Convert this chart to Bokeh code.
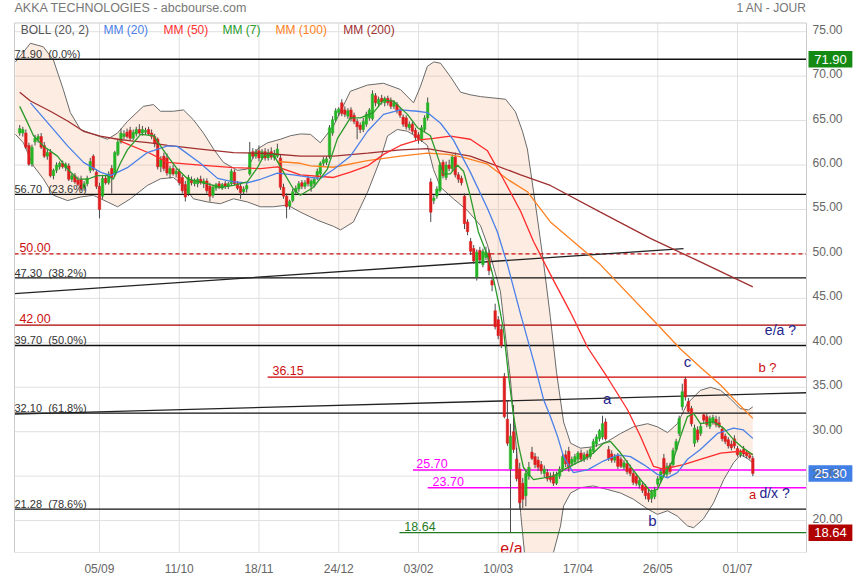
from bokeh.plotting import figure
from bokeh.models import Range1d, FixedTicker, Label
from bokeh.embed import file_html
from bokeh.resources import INLINE

# ---------------- data ----------------
DATES = ["05/09", "11/10", "18/11", "24/12", "03/02", "10/03", "17/04", "26/05", "01/07"]
DATE_IDX = [26, 52, 78, 104, 130, 156, 182, 208, 234]
Y_TICKS = [20, 25, 30, 35, 40, 45, 50, 55, 60, 65, 70, 75]

OPEN = [63.6, 63.6, 63.6, 62.2, 60.1, 62.6, 62.9, 63.2, 62.2, 61.0,
        61.4, 58.8, 59.4, 59.8, 60.2, 59.7, 59.9, 58.4, 58.8, 58.3,
        58.4, 57.4, 57.9, 59.4, 61.0, 59.2, 57.6, 56.5, 58.5, 58.0,
        59.6, 58.9, 61.2, 62.6, 63.2, 63.7, 63.9, 63.0, 63.5, 64.0,
        63.6, 63.7, 64.0, 63.6, 63.2, 62.9, 59.8, 61.0, 60.8, 59.0,
        59.6, 59.0, 59.3, 58.6, 57.8, 56.8, 58.3, 57.9, 57.9, 58.4,
        57.9, 58.2, 57.6, 56.6, 57.4, 57.9, 57.4, 57.9, 57.6, 57.9,
        59.2, 57.9, 57.6, 57.0, 57.3, 59.0, 61.5, 61.0, 61.6, 60.8,
        61.5, 60.8, 61.5, 60.8, 61.0, 60.8, 57.5, 56.5, 55.4, 56.0,
        57.0, 57.3, 58.0, 57.6, 58.5, 57.6, 57.9, 58.6, 59.0, 60.2,
        60.3, 60.9, 63.6, 65.1, 65.9, 67.0, 66.2, 65.5, 66.2, 65.6,
        64.9, 64.5, 64.0, 64.6, 65.3, 65.2, 67.8, 66.9, 67.5, 67.0,
        67.5, 67.3, 66.6, 66.8, 66.2, 65.4, 65.3, 64.2, 64.6, 63.9,
        63.4, 62.8, 64.0, 65.3, 58.1, 56.0, 56.5, 57.1, 60.3, 58.6,
        60.0, 59.6, 60.9, 58.9, 58.5, 56.5, 53.6, 51.4, 50.6, 47.4,
        50.4, 48.8, 49.6, 50.1, 47.0, 43.6, 42.6, 41.5, 36.2, 31.4,
        25.8, 30.0, 26.9, 25.8, 24.2, 22.8, 25.0, 27.7, 27.2, 26.8,
        26.3, 25.3, 25.4, 25.0, 25.1, 24.2, 25.0, 25.8, 27.4, 27.8,
        26.4, 26.6, 26.9, 27.6, 26.9, 27.5, 27.2, 27.8, 28.6, 29.2,
        29.4, 31.1, 28.0, 27.5, 26.8, 27.3, 26.9, 26.0, 26.4, 25.9,
        25.3, 25.0, 24.0, 24.0, 23.8, 23.1, 22.5, 22.7, 24.1, 24.6,
        27.0, 25.2, 26.2, 26.3, 28.0, 29.8, 32.8, 35.9, 33.4, 32.6,
        28.7, 30.2, 29.8, 31.9, 31.7, 30.6, 31.1, 31.4, 31.0, 30.3,
        29.5, 29.1, 28.6, 29.2, 28.1, 27.4, 28.0, 27.6, 27.3, 27.0]

HIGH = [64.5, 64.3, 64.0, 62.5, 62.3, 63.4, 63.5, 63.6, 62.6, 61.8,
        61.8, 59.6, 60.3, 60.4, 60.5, 60.3, 60.2, 59.0, 59.1, 58.7,
        58.8, 58.2, 58.8, 60.8, 61.2, 59.5, 58.0, 58.9, 58.9, 59.3,
        60.0, 61.6, 63.0, 64.1, 63.9, 64.1, 64.3, 64.0, 64.3, 64.6,
        64.4, 64.2, 64.3, 64.0, 63.5, 63.1, 61.0, 61.4, 61.3, 59.9,
        60.0, 59.6, 59.6, 58.9, 58.2, 58.9, 58.7, 58.5, 58.6, 58.8,
        58.5, 58.5, 58.0, 57.8, 58.0, 58.2, 58.0, 58.2, 58.1, 59.6,
        59.5, 58.2, 57.9, 57.6, 58.0, 62.6, 61.9, 61.8, 62.2, 61.8,
        61.9, 61.8, 62.0, 61.7, 62.4, 61.2, 57.9, 56.8, 56.1, 57.3,
        57.7, 58.2, 58.3, 58.3, 58.8, 58.4, 58.6, 59.6, 60.4, 60.9,
        61.0, 64.5, 65.5, 66.4, 66.5, 67.4, 66.6, 66.4, 66.5, 65.9,
        65.2, 64.8, 65.3, 66.0, 66.4, 68.4, 68.1, 67.7, 67.9, 67.7,
        67.8, 67.6, 67.3, 67.1, 66.5, 65.7, 65.6, 64.9, 64.9, 64.2,
        63.7, 64.5, 65.6, 67.6, 58.5, 56.6, 57.6, 60.3, 60.6, 60.4,
        60.6, 61.2, 61.4, 59.2, 58.8, 56.8, 53.9, 51.8, 51.0, 50.5,
        50.8, 50.6, 50.8, 50.5, 47.4, 44.4, 43.0, 41.9, 36.6, 33.4,
        30.9, 33.0, 28.2, 26.5, 24.8, 25.8, 26.6, 28.3, 27.6, 27.2,
        26.7, 26.2, 25.8, 25.4, 25.5, 25.5, 26.1, 27.6, 27.9, 28.3,
        27.2, 27.5, 27.8, 28.0, 27.7, 27.9, 28.2, 29.2, 29.7, 30.3,
        31.8, 31.5, 28.4, 27.9, 27.5, 27.6, 27.2, 26.8, 26.8, 26.3,
        25.6, 25.3, 24.8, 24.3, 24.1, 23.5, 23.5, 23.8, 25.0, 25.8,
        27.5, 26.5, 26.5, 28.2, 29.2, 31.8, 35.4, 36.15, 33.8, 32.9,
        30.8, 30.6, 31.0, 32.1, 32.0, 31.8, 31.9, 31.8, 31.7, 30.6,
        29.8, 29.4, 29.0, 29.6, 28.4, 28.0, 28.4, 27.9, 27.6, 27.3]

LOW = [63.3, 63.2, 61.8, 59.9, 59.8, 62.2, 62.5, 61.8, 60.8, 60.6,
       58.6, 58.4, 59.1, 59.5, 59.6, 59.3, 58.2, 58.1, 57.9, 57.6,
       57.1, 57.1, 57.6, 59.1, 59.3, 57.3, 54.0, 56.2, 57.8, 57.8,
       56.8, 58.7, 61.0, 62.4, 62.9, 63.0, 62.8, 62.8, 63.2, 63.4,
       63.3, 63.4, 63.3, 62.9, 62.0, 59.5, 59.2, 59.3, 58.8, 58.5,
       58.8, 58.6, 57.7, 56.8, 55.9, 56.5, 57.7, 57.6, 57.5, 57.8,
       57.4, 56.8, 55.9, 56.3, 57.1, 57.3, 57.2, 57.3, 57.3, 57.7,
       57.7, 57.2, 56.2, 56.7, 56.9, 58.8, 60.7, 60.7, 60.4, 60.6,
       60.5, 60.5, 60.6, 60.5, 60.8, 57.2, 56.2, 54.0, 55.0, 55.8,
       56.6, 57.0, 57.3, 57.3, 57.6, 57.0, 57.5, 58.3, 58.8, 59.9,
       60.0, 60.7, 63.3, 64.9, 65.5, 65.5, 65.4, 65.2, 64.9, 64.6,
       62.9, 63.6, 63.7, 64.3, 65.0, 65.0, 66.6, 66.5, 66.8, 66.6,
       66.7, 66.3, 66.3, 65.8, 65.3, 64.3, 64.0, 63.9, 63.5, 62.8,
       62.4, 62.6, 63.7, 65.0, 53.6, 55.6, 56.2, 56.9, 58.5, 58.3,
       59.3, 59.3, 58.6, 58.0, 57.7, 52.8, 52.1, 49.9, 48.9, 47.0,
       48.9, 48.5, 49.3, 47.6, 45.8, 41.5, 40.4, 39.4, 31.5, 28.4,
       18.64, 27.6, 24.4, 21.3, 21.4, 21.6, 24.6, 26.8, 25.9, 25.6,
       25.2, 24.9, 24.4, 24.3, 23.9, 24.0, 24.7, 25.5, 26.0, 25.5,
       26.1, 26.3, 26.5, 26.6, 26.6, 26.8, 26.9, 27.5, 28.3, 28.9,
       29.1, 29.0, 26.7, 26.5, 26.5, 25.8, 25.9, 25.7, 25.2, 25.0,
       24.0, 23.9, 23.6, 23.1, 22.4, 22.1, 22.0, 22.4, 23.8, 24.3,
       25.0, 24.9, 25.2, 26.0, 27.8, 29.5, 32.4, 33.5, 32.0, 30.6,
       28.3, 28.8, 29.5, 30.9, 30.5, 30.3, 30.8, 30.5, 30.4, 28.9,
       28.6, 28.1, 27.9, 28.1, 27.2, 27.1, 27.2, 27.0, 26.9, 25.0]

CLOSE = [64.1, 64.0, 62.0, 60.1, 62.0, 63.0, 63.2, 62.0, 61.0, 61.4,
         58.8, 59.4, 60.0, 60.2, 59.8, 60.1, 58.4, 58.8, 58.1, 57.8,
         57.3, 57.9, 58.5, 60.4, 59.5, 57.6, 55.0, 58.5, 58.0, 59.0,
         58.6, 61.4, 62.6, 63.6, 63.5, 63.2, 63.0, 63.7, 64.0, 63.6,
         64.0, 63.9, 63.5, 63.2, 62.4, 59.8, 60.6, 59.6, 59.1, 59.6,
         59.0, 59.3, 58.0, 57.1, 56.4, 58.6, 58.0, 58.3, 58.4, 58.0,
         58.2, 57.1, 56.5, 57.5, 57.8, 57.5, 57.8, 57.6, 57.9, 59.3,
         57.9, 57.4, 56.9, 57.3, 57.7, 61.4, 61.0, 61.5, 60.8, 61.5,
         60.8, 61.4, 60.9, 61.3, 61.8, 57.5, 56.5, 55.3, 55.9, 57.0,
         57.4, 57.9, 57.6, 58.0, 57.9, 58.2, 58.4, 59.3, 60.2, 60.6,
         60.7, 64.2, 65.1, 66.1, 66.3, 65.8, 65.7, 66.1, 65.2, 64.9,
         64.3, 64.0, 64.9, 65.7, 66.2, 68.0, 67.0, 67.4, 67.1, 67.5,
         67.0, 66.6, 67.0, 66.1, 65.6, 64.6, 64.3, 64.6, 63.8, 63.1,
         62.9, 64.2, 65.3, 67.0, 54.7, 56.3, 57.3, 60.0, 58.8, 60.0,
         59.6, 60.9, 58.9, 58.4, 58.0, 53.4, 52.5, 50.3, 49.2, 50.2,
         49.3, 50.3, 50.2, 48.1, 46.5, 41.8, 40.8, 39.7, 31.7, 28.7,
         29.5, 28.0, 24.7, 22.0, 22.4, 25.3, 26.0, 27.0, 26.3, 26.0,
         25.6, 25.8, 24.7, 24.6, 24.2, 25.2, 25.8, 27.2, 26.4, 25.9,
         26.9, 27.2, 27.6, 26.9, 27.4, 27.1, 28.0, 28.9, 29.4, 30.1,
         30.9, 29.2, 27.0, 26.8, 27.2, 26.1, 26.1, 26.5, 25.5, 25.3,
         24.3, 24.2, 24.5, 23.4, 22.8, 22.4, 23.2, 23.4, 24.7, 25.5,
         25.3, 26.1, 25.5, 27.9, 28.9, 31.5, 34.5, 33.9, 32.3, 30.9,
         30.4, 29.1, 30.6, 31.3, 30.8, 31.5, 31.6, 30.8, 30.6, 29.2,
         28.9, 28.4, 28.2, 28.4, 27.4, 27.7, 27.5, 27.3, 27.1, 25.3]

# moving averages / Bollinger bands, sampled as (bar position, value)
MA7 = [(0, 66.6), (2.5, 64.8), (4.5, 63.3), (7.7, 62.15), (12.3, 61.0), (15.6, 59.55),
       (18.8, 58.45), (22.1, 58.4), (25.3, 58.8), (28.6, 58.8), (30.5, 58.4), (32.8, 60.2),
       (35.1, 61.7), (39.4, 63.45), (43.6, 63.3), (48.2, 61.0), (51.4, 59.55), (54.7, 58.45),
       (58.9, 58.1), (65.4, 57.5), (69.7, 57.7), (74.2, 58.1), (77.5, 59.7), (79.5, 61.0),
       (82.7, 61.2), (86, 59.2), (89.2, 57.3), (91.5, 56.6), (95.8, 57.5), (100.3, 59.55),
       (103.6, 63.0), (107.8, 65.3), (111.1, 65.3), (115.3, 65.9), (118.6, 67.3), (121.8, 67.2),
       (126.4, 65.7), (129.7, 64.2), (131.6, 63.8), (133.9, 63.3), (136.2, 61.0), (138.1, 59.0),
       (140.4, 59.0), (142.7, 60.0), (144.7, 59.3), (146.9, 56.5), (149.5, 52.5), (152.5, 49.8),
       (154.1, 47.8), (156.1, 44.5), (157.7, 41.5), (159.3, 36.5), (160.9, 32.0), (162.6, 28.5),
       (164.2, 26.0), (165.5, 25.4), (167.5, 24.6), (170.8, 24.8), (174, 25.0), (177.3, 25.7),
       (180.5, 26.3), (183.8, 26.85), (187, 27.6), (190.3, 28.7), (192.6, 28.9), (195.9, 27.6),
       (199.1, 26.1), (202.4, 24.6), (205.6, 23.3), (207.9, 23.5), (209.9, 25.0), (213.1, 26.85),
       (215.4, 29.45), (217.7, 31.7), (219.7, 32.05), (221.9, 30.9), (226.2, 31.1), (229.5, 30.4),
       (232.7, 29.1), (235.9, 28.15), (239, 27.4)]

MA20 = [(3.5, 67.0), (10, 64.4), (15.6, 62.15), (20.8, 60.3), (26.3, 59.2), (29.6, 58.8),
        (35.1, 59.7), (41.6, 61.4), (48.2, 62.15), (51.4, 62.1), (58.9, 60.2), (64.5, 58.5),
        (69.7, 58.1), (74.2, 58.0), (78.5, 58.4), (84, 59.1), (89.2, 58.9), (94.8, 58.6),
        (98, 58.5), (102.3, 59.5), (107.8, 61.0), (113.4, 63.8), (118.6, 65.7), (124.1, 66.2),
        (129.7, 66.05), (132.9, 65.9), (137.2, 64.7), (141.4, 62.8), (146.9, 59.2), (152.5, 55.1),
        (155.7, 52.5), (159, 48.8), (163.3, 43.2), (167.5, 38.0), (170.8, 33.6), (173, 31.7),
        (175.3, 29.5), (177.3, 27.2), (180.5, 25.4), (185.1, 25.7), (190.3, 26.7), (194.9, 27.4),
        (199.1, 27.2), (203.4, 26.3), (207.9, 25.2), (211.2, 24.8), (214.4, 25.4), (217.7, 26.9),
        (221.9, 28.0), (227.5, 29.8), (232.7, 30.4), (235.9, 30.2), (239, 29.25)]

MA50 = [(32.8, 62.7), (42.6, 61.3), (48.2, 60.3), (58.9, 60.0), (69.7, 59.7), (78.5, 59.6),
        (84, 59.8), (91.5, 58.9), (102.3, 58.6), (107.8, 59.2), (113.4, 59.9), (118.6, 61.2),
        (124.1, 62.2), (129.7, 62.8), (134.9, 63.0), (140.4, 63.25), (146.9, 62.9), (152.5, 61.6),
        (157.7, 58.4), (163.3, 54.8), (167.5, 51.4), (173, 47.7), (179.6, 43.4), (185.1, 39.5),
        (191.6, 36.1), (198.1, 32.5), (202.4, 29.45), (206.6, 26.1), (209.9, 25.8), (216.4, 26.3),
        (221.9, 26.9), (228.5, 27.6), (234.9, 27.8), (239, 27.45)]

MA100 = [(84, 60.4), (91.5, 60.2), (94.8, 59.9), (102.3, 59.75), (113.4, 60.5), (124.1, 61.0),
         (132.9, 61.35), (139.5, 61.2), (144.7, 60.85), (152.5, 60.1), (159, 58.4), (165.5, 57.0),
         (173, 53.6), (189.3, 48.8), (208.9, 41.7), (215.4, 39.3), (221.9, 37.25), (228.5, 35.25),
         (232.7, 33.7), (239, 31.5)]

MA200 = [(0, 68.2), (3.5, 67.2), (10, 66.05), (15.6, 64.95), (20.8, 63.8), (26.3, 63.25),
         (31.9, 62.9), (37.1, 62.7), (42.6, 62.5), (48.2, 62.2), (58.9, 61.8), (69.7, 61.4),
         (80.8, 61.3), (91.5, 61.0), (102.3, 61.0), (113.4, 61.35), (124.1, 61.7), (132.9, 61.85),
         (140.4, 61.4), (146.9, 61.0), (152.5, 60.3), (163.3, 58.9), (173, 57.7), (189.3, 54.7),
         (205.6, 51.75), (221.9, 49.1), (239, 46.3)]

BOLL_UP = [(-1.4, 71.6), (3.5, 73.7), (7.7, 73.3), (11, 71.8), (14.2, 68.5), (16.5, 65.9),
           (19.8, 64.0), (25.3, 63.3), (28.6, 62.9), (31.9, 63.6), (35.1, 64.9), (40.3, 66.6),
           (43.6, 66.8), (45.9, 66.05), (50.1, 66.05), (53.4, 66.2), (56.6, 65.1), (59.9, 63.6),
           (63.2, 61.8), (66.4, 60.3), (71, 59.4), (74.2, 59.55), (77.5, 61.8), (80.8, 62.5),
           (85, 62.9), (88.3, 63.3), (91.5, 63.5), (94.8, 63.45), (98, 62.5), (102.3, 64.4),
           (107.8, 68.3), (113.4, 69.0), (118.6, 69.2), (124.1, 68.5), (128.4, 67.0), (130.6, 68.8),
           (132.9, 71.1), (135, 71.6), (137.2, 71.45), (140.4, 69.95), (143.7, 68.2), (146.9, 67.9),
           (150.2, 67.7), (158.4, 67.4), (161.6, 66.0), (163.9, 63.8), (165.5, 61.8), (168.1, 55.65),
           (170.8, 48.95), (173, 42.85), (175, 36.7), (177.3, 31.1), (179.6, 28.7), (182.8, 28.15),
           (187, 28.3), (191.6, 28.9), (195.9, 29.8), (200.1, 30.55), (204.7, 30.9), (207.9, 30.55),
           (211.2, 29.9), (214.4, 30.9), (217.7, 33.2), (221.9, 34.65), (225.2, 35.0), (228.5, 34.65),
           (231.7, 33.7), (234.9, 32.6), (237.6, 32.45), (239, 32.8)]

BOLL_LO = [(-1.4, 63.45), (1.2, 62.5), (4.5, 59.9), (7.7, 58.45), (11, 56.6), (15.6, 56.0),
           (19.8, 56.4), (24, 56.6), (28.6, 55.85), (31.9, 55.3), (36.1, 56.2), (41.6, 57.7),
           (45.9, 58.45), (50.1, 58.6), (53.4, 57.7), (56.6, 56.2), (61.2, 55.85), (65.4, 55.65),
           (69.7, 56.2), (74.2, 55.85), (78.5, 55.3), (82.7, 55.3), (87.3, 55.5), (91.5, 54.7),
           (97, 53.8), (102.3, 53.1), (104.6, 52.7), (108.8, 53.6), (113.4, 56.95), (117.6, 60.67),
           (119.9, 63.27), (123.1, 64.0), (126.4, 63.8), (129.7, 63.1), (132.9, 62.2), (134.9, 59.5),
           (137.2, 57.5), (141.4, 56.2), (145.9, 54.9), (150.2, 53.2), (152.5, 51.0), (156.7, 45.8),
           (160, 35.8), (162.3, 26.5), (163.3, 20.9), (165.5, 13.0), (168.8, 10.0), (172, 14.0),
           (174, 16.4), (176.3, 19.4), (177.3, 21.65), (179.6, 23.1), (182.8, 23.7), (187, 23.9),
           (191.6, 23.5), (195.9, 23.1), (200.1, 22.4), (204.7, 21.3), (207.9, 20.7), (211.2, 21.1),
           (214.4, 20.5), (217.7, 19.4), (219.7, 19.2), (222.9, 20.2), (226.2, 22.0), (229.5, 24.6),
           (232.7, 26.5), (235, 27.4), (237.2, 27.0), (239, 26.5)]

FIB_LEVELS = [71.90, 56.70, 47.30, 39.70, 32.10, 21.28]
FIB_PCT = ["0.0%", "23.6%", "38.2%", "50.0%", "61.8%", "78.6%"]
RED_LEVELS = [50.00, 42.00, 36.15]
PINK_LEVELS = [25.70, 23.70]
LOW_LEVEL = 18.64
LAST_PRICE = 25.30
TREND1 = ([-1.7, 216.4], [45.54, 50.6])
TREND2 = ([-1.7, 256.5], [31.98, 34.38])

# ---------------- figure ----------------
# plot box (in data units) and the full drawing area around it
X0, X1 = -1.7, 256.5
Y0, Y1 = 16.41, 75.98
FONT = "Liberation Sans"

p = figure(width=853, height=578, output_backend="svg", toolbar_location=None, tools="",
           x_range=Range1d(-6.264, 271.82), y_range=Range1d(Y0, 78.51),
           y_axis_location=None,
           min_border_left=0, min_border_right=0, min_border_top=0, min_border_bottom=21)
p.outline_line_color = None
p.background_fill_color = "white"
p.border_fill_color = "white"
p.grid.grid_line_color = None

p.xaxis.ticker = FixedTicker(ticks=DATE_IDX)
p.xaxis.major_label_overrides = {k: v for k, v in zip(DATE_IDX, DATES)}
p.xaxis.axis_line_color = None
p.xaxis.major_tick_line_color = None
p.xaxis.minor_tick_line_color = None
p.xaxis.major_label_text_font = FONT
p.xaxis.major_label_text_font_size = "12px"
p.xaxis.major_label_text_color = "#666666"
p.xaxis.major_label_standoff = 3

GRID = "#e0e0e0"
# grid inside the plot box
p.segment(x0=DATE_IDX, y0=[Y0] * len(DATE_IDX), x1=DATE_IDX, y1=[Y1] * len(DATE_IDX),
          line_color=GRID, line_width=1)
p.segment(x0=[X0] * len(Y_TICKS), y0=Y_TICKS, x1=[X1] * len(Y_TICKS), y1=Y_TICKS,
          line_color=GRID, line_width=1)

# Bollinger fill + lines
ux = [a for a, b in BOLL_UP]; uy = [b for a, b in BOLL_UP]
lx = [a for a, b in BOLL_LO]; ly = [b for a, b in BOLL_LO]
p.patch(ux + lx[::-1], uy + ly[::-1], fill_color="#f5a878", fill_alpha=0.22, line_color=None)
p.line(ux, uy, line_color="#6a6a6a", line_width=1)
p.line(lx, ly, line_color="#6a6a6a", line_width=1)

# Fibonacci levels
for lv in FIB_LEVELS:
    p.segment(x0=[X0], y0=[lv], x1=[X1], y1=[lv], line_color="#111111", line_width=1.3)
p.segment(x0=[X0], y0=[RED_LEVELS[0]], x1=[X1], y1=[RED_LEVELS[0]], line_color="#cc1111",
          line_width=1.2, line_dash="4 3")
p.segment(x0=[X0], y0=[RED_LEVELS[1]], x1=[X1], y1=[RED_LEVELS[1]], line_color="#aa0000", line_width=1.2)
p.segment(x0=[80.8], y0=[RED_LEVELS[2]], x1=[X1], y1=[RED_LEVELS[2]], line_color="#cc0000", line_width=1.2)
p.segment(x0=[128.2], y0=[PINK_LEVELS[0]], x1=[X1], y1=[PINK_LEVELS[0]], line_color="#ff00ff", line_width=1.5)
p.segment(x0=[133.0], y0=[PINK_LEVELS[1]], x1=[X1], y1=[PINK_LEVELS[1]], line_color="#ff00ff", line_width=1.5)
p.segment(x0=[123.8], y0=[LOW_LEVEL], x1=[X1], y1=[LOW_LEVEL], line_color="#1f7a1f", line_width=1.3)
p.line(TREND1[0], TREND1[1], line_color="#222222", line_width=1.3)
p.line(TREND2[0], TREND2[1], line_color="#222222", line_width=1.3)

# candles
idx = list(range(len(CLOSE)))
p.segment(x0=idx, y0=LOW, x1=idx, y1=HIGH, line_color="#4a4a4a", line_width=1)
tops = [max(o, c) for o, c in zip(OPEN, CLOSE)]
bots = [min(o, c) for o, c in zip(OPEN, CLOSE)]
cols = ["#25b425" if c >= o else "#de1f1f" for o, c in zip(OPEN, CLOSE)]
p.vbar(x=idx, top=tops, bottom=bots, width=0.82, fill_color=cols, line_color=cols, line_width=0.5)

# moving averages
for data, col in ((MA200, "#a03030"), (MA100, "#ff8020"), (MA50, "#ff2a2a"),
                  (MA20, "#4a80e8"), (MA7, "#2a9a2a")):
    p.line([a for a, b in data], [b for a, b in data], line_color=col, line_width=1.3)

# plot box border
p.segment(x0=[X0, X0, X0, X1], y0=[Y0, Y1, Y0, Y0], x1=[X1, X1, X0, X1], y1=[Y0, Y1, Y1, Y1],
          line_color="#cccccc", line_width=1)

# price boxes on the right
BOX_X = 264.3
for lv, bg in ((71.90, "#148a14"), (LAST_PRICE, "#3f7fe6"), (LOW_LEVEL, "#b00000")):
    p.rect(x=[BOX_X], y=[lv], width=14.3, height=1.85, fill_color=bg, line_color=None)


def lab(x, y, text, color, size, align="left"):
    p.add_layout(Label(x=x, y=y, text=text, text_color=color, text_font=FONT,
                       text_font_size=size, text_align=align, text_baseline="middle"))


# right axis labels
for t in Y_TICKS:
    lab(258.45, t + 0.28, "%.2f" % t, "#666666", "12px")
for lv in (71.90, LAST_PRICE, LOW_LEVEL):
    lab(BOX_X, lv, "%.2f" % lv, "white", "13px", align="center")

# header
lab(X0, 77.62, "AKKA TECHNOLOGIES - abcbourse.com", "#777777", "12.5px")
lab(X1, 77.62, "1 AN - JOUR", "#777777", "12px", align="right")
# indicator legend
for x, t, c in ((0.3, "BOLL (20, 2)", "#555555"), (27.3, "MM (20)", "#4a80e8"),
                (46.9, "MM (50)", "#ff3030"), (66.1, "MM (7)", "#2a9a2a"),
                (83.4, "MM (100)", "#ff8020"), (105.5, "MM (200)", "#a03030")):
    lab(x, 75.2, t, c, "12px")

# level labels
for lv, pc in zip(FIB_LEVELS, FIB_PCT):
    lab(X0, lv + 0.6, "%.2f\u00a0 (%s)" % (lv, pc), "#333333", "11px")
lab(-0.1, RED_LEVELS[0] + 0.7, "50.00", "#cc1111", "12.5px")
lab(-0.1, RED_LEVELS[1] + 0.7, "42.00", "#cc1111", "12.5px")
lab(82.4, RED_LEVELS[2] + 0.7, "36.15", "#cc1111", "12.5px")
lab(129.3, PINK_LEVELS[0] + 0.7, "25.70", "#ff00ff", "12.5px")
lab(134.6, PINK_LEVELS[1] + 0.7, "23.70", "#ff00ff", "12.5px")
lab(125.4, LOW_LEVEL + 0.7, "18.64", "#1f7a1f", "12.5px")

# wave annotations
NAVY = "#24248c"
RED = "#cc1111"
lab(160.3, 16.85, "e/a", RED, "16px", align="center")
lab(191.5, 33.69, "a", NAVY, "15px", align="center")
lab(217.7, 37.93, "c", NAVY, "15px", align="center")
lab(206.3, 19.98, "b", NAVY, "15px", align="center")
lab(243.8, 37.26, "b ?", RED, "13px", align="center")
lab(248.0, 41.49, "e/a ?", NAVY, "14px", align="center")
lab(238.9, 22.88, "a", RED, "13px", align="center")
lab(246.1, 23.10, "d/x ?", NAVY, "14px", align="center")

open("out.html", "w").write(file_html(p, INLINE))
